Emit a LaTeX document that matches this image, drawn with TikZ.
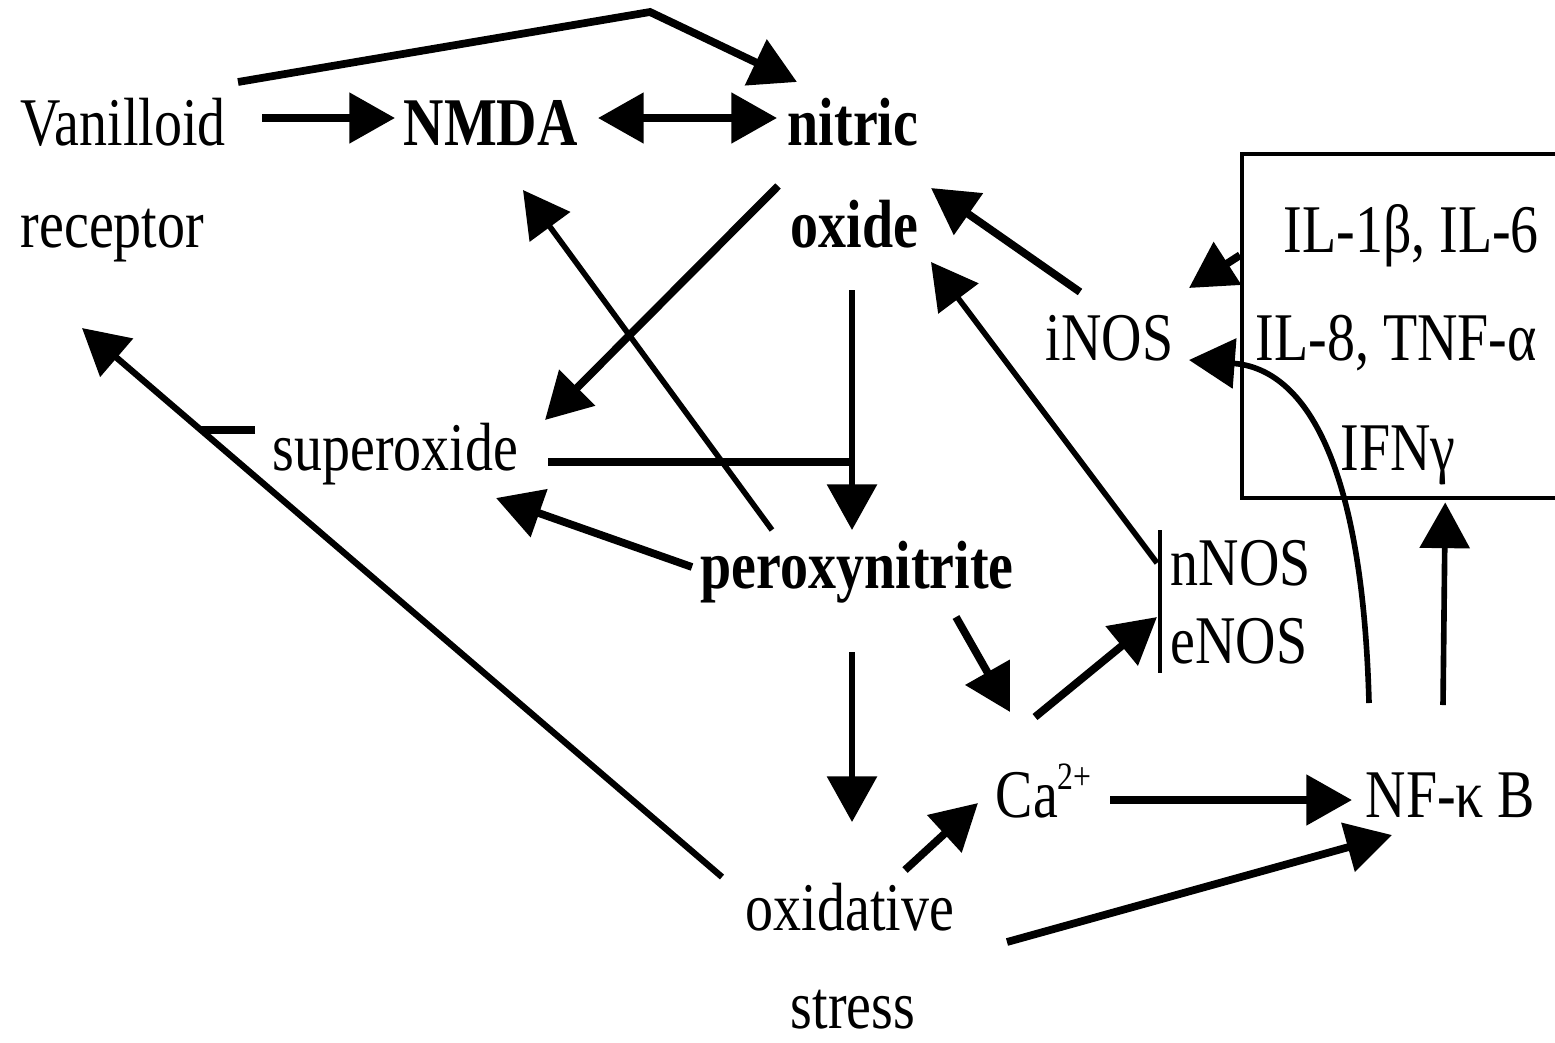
\documentclass[tikz,border=0pt]{standalone}
\usepackage{fontspec}
\setmainfont{Liberation Serif}[FakeStretch=0.82]
\usetikzlibrary{arrows.meta,calc}
\begin{document}
\begin{tikzpicture}[x=0.01cm,y=-0.01cm,font=\fontsize{19.4}{23}\selectfont,
  lbl/.style={inner sep=0pt,anchor=base west},
  arr/.style={-{Triangle[length=13pt,width=14pt]},line width=2.2pt},
  marr/.style={-{Triangle[length=13pt,width=14pt]},line width=1.6pt},
  tline/.style={line width=1.5pt}]
\useasboundingbox (0,0) rectangle (1555,1042);
% text nodes
\node[lbl] (vani) at (20,145) {Vanilloid};
\node[lbl] (rec) at (20,247) {receptor};
\node[lbl,font=\fontsize{19.4}{23}\selectfont\bfseries] (nmda) at (403,145) {NMDA};
\node[lbl,font=\fontsize{19.4}{23}\selectfont\bfseries] (nitric) at (787,145) {nitric};
\node[lbl,font=\fontsize{19.4}{23}\selectfont\bfseries] (oxide) at (790,247) {oxide};
\node[lbl] (sup) at (272,470) {superoxide};
\node[lbl,font=\fontsize{19.4}{23}\selectfont\bfseries] (perox) at (700,588) {peroxynitrite};
\node[lbl] (oxid) at (745,930) {oxidative};
\node[lbl] (stress) at (790,1028) {stress};
\node[lbl] (ca) at (995,817) {Ca\raisebox{0.4em}{\fontsize{11}{11}\selectfont 2+}};
\node[lbl] (nfkb) at (1365,817) {NF-κ B};
\node[lbl] (inos) at (1045,360) {iNOS};
\node[lbl] (nnos) at (1170,585) {nNOS};
\node[lbl] (enos) at (1170,663) {eNOS};
% cytokine box
\node[draw,line width=1.2pt,minimum width=3.4cm,minimum height=3.44cm,inner sep=0pt,anchor=north west] (box) at (1240,152) {};
\node[lbl] (il1) at (1283,252) {IL-1β, IL-6};
\node[lbl] (il8) at (1255,360) {IL-8, TNF-α};
\node[lbl] (ifn) at (1340,470) {IFNγ};
% connectors
\draw[arr] ($(vani.base west)+(242,-27)$) -- ($(nmda.base west)+(-8,-27)$);
\draw[{Triangle[length=13pt,width=14pt]}-{Triangle[length=13pt,width=14pt]},line width=2.2pt] ($(nmda.base west)+(195,-27)$) -- ($(nitric.base west)+(-10,-27)$);
\coordinate (peak) at ($(nitric.base west)+(-137,-133)$);
\draw[arr,line join=miter] ($(vani.base west)+(218,-63)$) -- (peak) -- ($(nitric.base west)+(10,-63)$);
\draw[arr] ($(oxide.base west)+(-12,-61)$) -- ($(sup.base west)+(273,-50)$);
\draw[marr] ($(perox.base west)+(72,-58)$) -- ($(nmda.base west)+(120,45)$);
\coordinate (join) at ($(oxide.base west)+(62,215)$);
\draw[marr] ($(oxide.base west)+(62,43)$) -- ($(perox.base west)+(152,-58)$);
\draw[line width=2.2pt] ($(sup.base west)+(276,-8)$) -- (join);
\draw[arr] ($(perox.base west)+(-8,-21)$) -- ($(sup.base west)+(224,28)$);
\draw[marr] ($(perox.base west)+(152,64)$) -- ($(oxid.base west)+(107,-108)$);
\draw[arr] ($(perox.base west)+(256,29)$) -- ($(ca.base west)+(15,-105)$);
\draw[arr] ($(ca.base west)+(40,-100)$) -- ($(nnos.base west)+(-13,32)$);
\draw[arr] ($(oxid.base west)+(160,-60)$) -- ($(ca.base west)+(-17,-14)$);
\draw[arr] ($(ca.base west)+(115,-17)$) -- ($(nfkb.base west)+(-13,-17)$);
\draw[arr] ($(oxid.base west)+(262,12)$) -- ($(nfkb.base west)+(27,18)$);
\draw[arr,line width=1.8pt] ($(oxid.base west)+(-23,-53)$) -- ($(rec.base west)+(62,81)$);
\draw[line width=2.2pt] ($(sup.base west)+(-17,-40)$) -- ($(sup.base west)+(-71,-40)$);
\draw[arr] ($(inos.base west)+(35,-68)$) -- ($(oxide.base west)+(141,-59)$);
\draw[marr] ($(nnos.base west)+(-13,-22)$) -- ($(oxide.base west)+(141,15)$);
\draw[line width=1.2pt] ($(nnos.base west)+(-10,-55)$) -- ($(enos.base west)+(-10,10)$);
\draw[arr] ($(box.west)+(0,-71)$) -- ($(inos.base west)+(144,-72)$);
\draw[marr] ($(nfkb.base west)+(4,-114)$) .. controls (1362,440) and (1295,368) .. ($(inos.base west)+(144,0)$);
\draw[marr] ($(nfkb.base west)+(78,-112)$) -- ($(box.south)+(33,2)$);
\end{tikzpicture}
\end{document}
